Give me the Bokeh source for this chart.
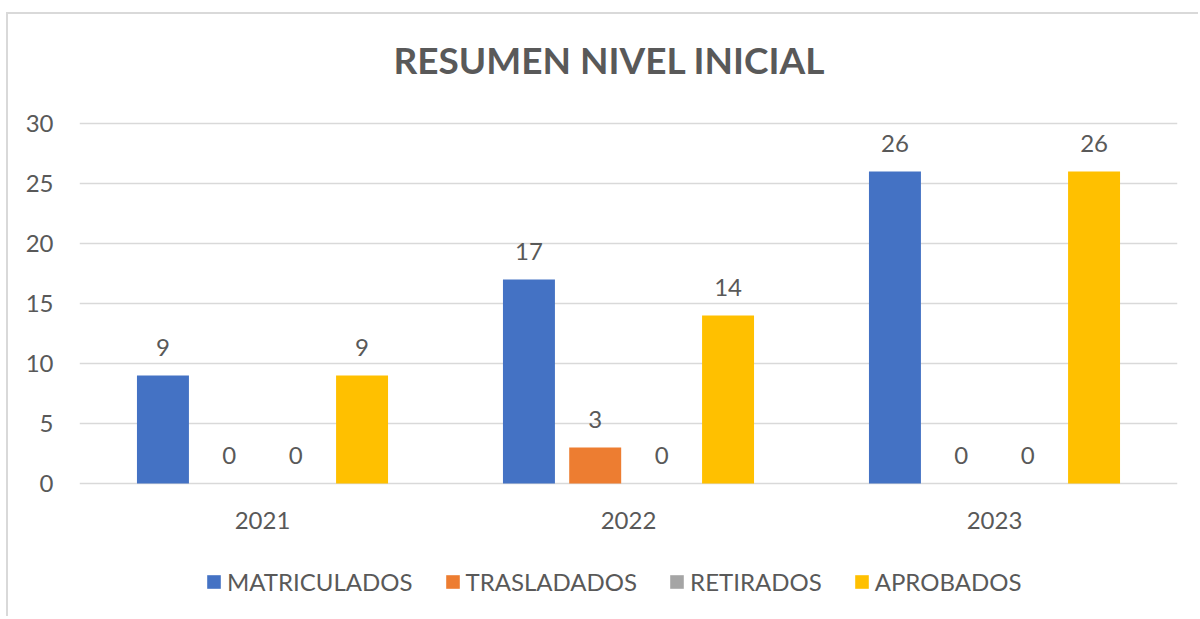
from bokeh.plotting import figure
from bokeh.models import ColumnDataSource, FactorRange, Legend, LegendItem, FixedTicker, Label
from bokeh.transform import dodge
from bokeh.core.properties import value
from bokeh.embed import file_html
from bokeh.resources import INLINE

years = ["2021", "2022", "2023"]
series = ["MATRICULADOS", "TRASLADADOS", "RETIRADOS", "APROBADOS"]
matriculados = [9, 17, 26]
trasladados = [0, 3, 0]
retirados = [0, 0, 0]
aprobados = [9, 14, 26]
colors = ["#4472C4", "#ED7D31", "#A5A5A5", "#FFC000"]
y_ticks = [0, 5, 10, 15, 20, 25, 30]
title_text = "RESUMEN NIVEL INICIAL"

FONT = "Lato"
TXT = "#595959"

data = {"years": years}
for name, vals in zip(series, [matriculados, trasladados, retirados, aprobados]):
    data[name] = vals
    data[name + "_lbl"] = [str(v) for v in vals]
src = ColumnDataSource(data)

# frame extends above and below the value area to hold title and legend
p = figure(frame_width=1098, frame_height=592, x_range=FactorRange(*years), y_range=(-11.083, 38.25),
           output_backend="svg", toolbar_location=None,
           min_border_left=71, min_border_right=21, min_border_top=10, min_border_bottom=0,
           styles={"position": "relative", "left": "6px", "top": "12px",
                   "border-left": "2px solid #D9D9D9", "border-top": "2px solid #D9D9D9"})
p.x_range.range_padding = 0
p.outline_line_color = None

p.add_layout(Label(x=1.448, y=35.33, text=title_text, text_align="center", text_baseline="alphabetic",
                   text_font=FONT, text_font_size="37px", text_font_style="bold", text_color=TXT))

offsets = [-0.272, -0.091, 0.091, 0.272]
items = []
for name, off, col in zip(series, offsets, colors):
    r = p.vbar(x=dodge("years", off, range=p.x_range), top=name, bottom=0, width=0.142,
               source=src, fill_color=col, line_color=None)
    items.append(LegendItem(label=name, renderers=[r]))
    p.text(x=dodge("years", off, range=p.x_range), y=name, text=name + "_lbl", source=src,
           text_align="center", text_baseline="alphabetic", y_offset=-28,
           text_font=value(FONT), text_font_size="24px", text_color=TXT)

p.yaxis.ticker = FixedTicker(ticks=y_ticks)
p.ygrid.ticker = FixedTicker(ticks=y_ticks)
p.ygrid.grid_line_color = "#D9D9D9"
p.ygrid.grid_line_width = 1.5
p.xgrid.grid_line_color = None

for ax in (p.xaxis[0], p.yaxis[0]):
    ax.axis_line_color = None
    ax.major_tick_line_color = None
    ax.minor_tick_line_color = None
    ax.major_tick_out = 0
    ax.major_tick_in = 0
    ax.major_label_text_font = FONT
    ax.major_label_text_font_size = "24px"
    ax.major_label_text_color = TXT
p.yaxis.major_label_standoff = 26
p.xaxis.major_label_standoff = 28
p.xaxis.fixed_location = 0

legend = Legend(items=items, orientation="horizontal", location=(126, 20),
                glyph_width=17, glyph_height=17, label_standoff=5, spacing=31,
                padding=0, margin=0, border_line_color=None, background_fill_alpha=0,
                label_text_font=FONT, label_text_font_size="24px", label_text_color=TXT)
p.add_layout(legend)

open("out.html", "w").write(file_html(p, INLINE))
